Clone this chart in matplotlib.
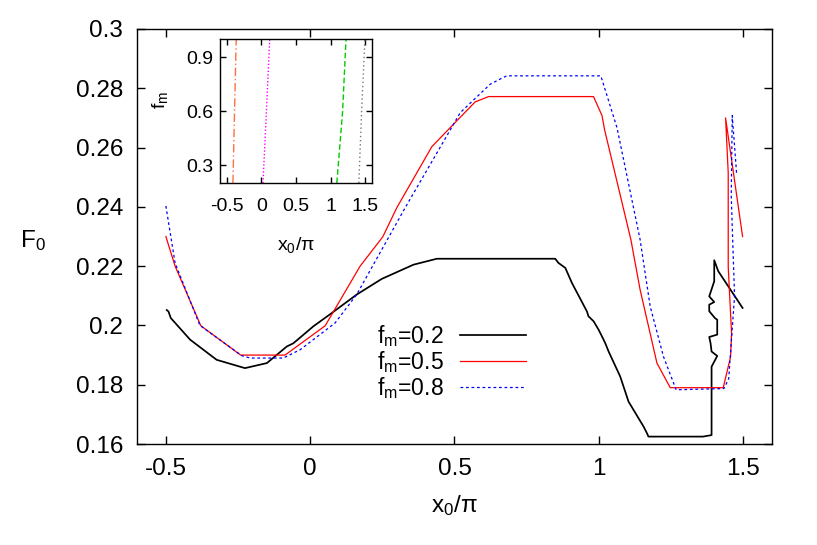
import matplotlib
matplotlib.use("Agg")
import matplotlib.pyplot as plt

plt.rcParams['font.family'] = ['Liberation Sans', 'DejaVu Sans']
plt.rcParams['mathtext.fontset'] = 'custom'
plt.rcParams['mathtext.rm'] = 'Liberation Sans'
plt.rcParams['mathtext.it'] = 'Liberation Sans'

# ---- main data (x0/pi, F0) ----
x_f02 = [-0.497, -0.491, -0.483, -0.416, -0.324, -0.226, -0.15, -0.081, -0.058, 0.011, 0.075,
         0.161, 0.248, 0.358, 0.439, 0.849, 0.86, 0.884, 0.907, 0.959, 0.964, 0.982, 0.999,
         1.011, 1.022, 1.034, 1.074, 1.103, 1.155, 1.167, 1.172, 1.361, 1.3907, 1.3907,
         1.3907, 1.4103, 1.3907, 1.3872, 1.3826, 1.4103, 1.4103, 1.4022, 1.3826, 1.3826,
         1.3999, 1.3826, 1.3999, 1.3999, 1.4138, 1.4981]
F_f02 = [0.2052, 0.2047, 0.2025, 0.1952, 0.1884, 0.1856, 0.1873, 0.1929, 0.1940, 0.1997, 0.2042,
         0.2104, 0.2157, 0.2205, 0.2225, 0.2225, 0.2211, 0.2194, 0.2143, 0.2047, 0.2031, 0.2014, 0.1986,
         0.1963, 0.1941, 0.1912, 0.1828, 0.1743, 0.1659, 0.1636, 0.1625, 0.1625, 0.1630, 0.1850,
         0.1861, 0.1897, 0.1912, 0.1940, 0.1961, 0.1969, 0.2019, 0.2025, 0.2048, 0.2070,
         0.2079, 0.2098, 0.2149, 0.2220, 0.2183, 0.2059]

x_f05 = [-0.5, -0.468, -0.379, -0.241, -0.087, 0.052, 0.173, 0.2516, 0.3, 0.4215, 0.4908,
         0.5716, 0.618, 0.9817, 1.011, 1.02, 1.111, 1.143, 1.2014, 1.2475, 1.4311, 1.4565,
         1.46, 1.4484, 1.4484, 1.4392, 1.4981]
F_f05 = [0.2300, 0.2200, 0.1999, 0.1900, 0.1900, 0.1999, 0.2200, 0.2299, 0.2397, 0.2603, 0.2673,
         0.2754, 0.2772, 0.2772, 0.2708, 0.2660, 0.2290, 0.2121, 0.1873, 0.1790, 0.1790, 0.1894,
         0.1973, 0.2198, 0.2514, 0.2700, 0.2300]

x_f08 = [-0.5, -0.468, -0.382, -0.237, -0.208, -0.093, -0.035, 0.086, 0.161, 0.329, 0.52,
         0.624, 0.658, 0.681, 1.007, 1.063, 1.143, 1.178, 1.224, 1.268, 1.4334, 1.45,
         1.4703, 1.4588, 1.4623, 1.4773]
F_f08 = [0.2403, 0.2210, 0.2000, 0.1898, 0.1890, 0.1890, 0.1918, 0.2008, 0.2104, 0.2397, 0.2718,
         0.2814, 0.2831, 0.2842, 0.2842, 0.2667, 0.2290, 0.2064, 0.1895, 0.1783, 0.1787, 0.1820,
         0.2099, 0.2437, 0.2708, 0.2514]

labels = [r"f$_\mathrm{m}$=0.2", r"f$_\mathrm{m}$=0.5", r"f$_\mathrm{m}$=0.8"]

# ---- inset data (x0/pi vs f_m) ----
fm_inset = [0.2, 0.6, 1.0]
x_orange = [-0.413, -0.39, -0.365]
x_magenta = [0.022, 0.072, 0.12]
x_green = [1.091, 1.175, 1.224]
x_gray = [1.41, 1.45, 1.498]

main_xticks = [-0.5, 0, 0.5, 1, 1.5]
main_yticks = [0.16, 0.18, 0.2, 0.22, 0.24, 0.26, 0.28, 0.3]
main_yticklabels = ["0.16", "0.18", "0.2", "0.22", "0.24", "0.26", "0.28", "0.3"]
inset_xticks = [-0.5, 0, 0.5, 1, 1.5]
inset_yticks = [0.3, 0.6, 0.9]

FS = 17.5
FSL = 16.5
FSI = 14

fig = plt.figure(figsize=(8.17, 5.45), dpi=100)
ax = fig.add_axes([0.1677, 0.1853, 0.7772, 0.7615])

l1, = ax.plot(x_f02, F_f02, color='black', lw=1.25)
l2, = ax.plot(x_f05, F_f05, color='#ff0000', lw=0.9)
l3, = ax.plot(x_f08, F_f08, color='#0000ff', lw=0.9, linestyle=(0, (2.2, 2.2)))

ax.set_xlim(-0.6, 1.6)
ax.set_ylim(0.16, 0.3)
ax.set_xticks(main_xticks)
ax.set_xticklabels(["-0.5", "0", "0.5", "1", "1.5"])
ax.set_yticks(main_yticks)
ax.set_yticklabels(main_yticklabels)
ax.tick_params(direction='in', top=True, right=True, length=6, width=1,
               labelsize=FS, pad=10)
for s in ax.spines.values():
    s.set_linewidth(1.0)

ax.set_xlabel(r"x$_0$/π", fontsize=FS)
ax.xaxis.set_label_coords(0.5, -0.118)
ax.set_ylabel(r"F$_0$", fontsize=FS, rotation=0, ha='center', va='center')
ax.yaxis.set_label_coords(-0.164, 0.49)

leg = ax.legend([l1, l2, l3], labels, loc='center right', bbox_to_anchor=(0.6126, 0.198),
                frameon=False, markerfirst=False, fontsize=FSL, handlelength=2.9,
                labelspacing=0.0, handletextpad=0.7, borderpad=0, borderaxespad=0)
for t in leg.get_texts():
    t.set_ha('right')

# ---- inset ----
axi = fig.add_axes([0.2693, 0.6642, 0.186, 0.264])
axi.plot(x_orange, fm_inset, color='#ff7040', lw=1.0, linestyle=(0, (6, 2, 1, 2)))
axi.plot(x_magenta, fm_inset, color='#ff00ff', lw=1.0, linestyle=(0, (1, 1.5)))
axi.plot(x_green, fm_inset, color='#00cc00', lw=1.0, linestyle=(0, (4, 2)))
axi.plot(x_gray, fm_inset, color='#777777', lw=1.0, linestyle=(0, (1, 2)))
axi.set_xlim(-0.6, 1.6)
axi.set_ylim(0.2, 1.0)
axi.set_xticks(inset_xticks)
axi.set_xticklabels(["-0.5", "0", "0.5", "1", "1.5"])
axi.set_yticks(inset_yticks)
axi.set_yticklabels(["0.3", "0.6", "0.9"])
axi.tick_params(direction='in', top=True, right=True, length=4, width=1,
                labelsize=FSI)
axi.tick_params(axis='x', pad=11)
axi.tick_params(axis='y', pad=5)
for s in axi.spines.values():
    s.set_linewidth(1.0)
axi.set_xlabel(r"x$_0$/π", fontsize=FSI)
axi.xaxis.set_label_coords(0.5, -0.36)
axi.set_ylabel(r"f$_\mathrm{m}$", fontsize=FSI)
axi.yaxis.set_label_coords(-0.33, 0.58)

fig.savefig("out.png", dpi=100)
